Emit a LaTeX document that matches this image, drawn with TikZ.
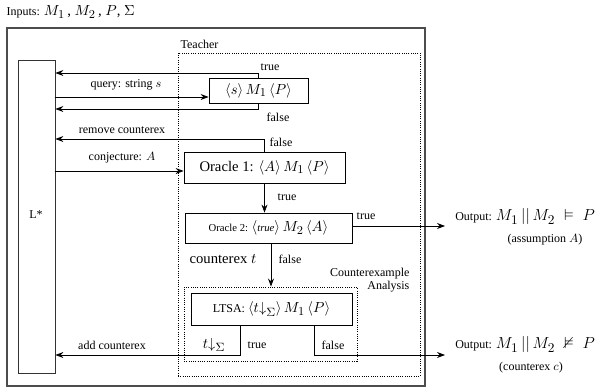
\documentclass[tikz,border=0pt]{standalone}
\usepackage{fontspec}
\setmainfont{Liberation Serif}
\usepackage{amssymb}
\usetikzlibrary{arrows.meta,fit}
% roomier subscripts
\DeclareMathSizes{9}{9}{7.5}{6}
\DeclareMathSizes{10}{10}{8.5}{6.5}
\DeclareMathSizes{11}{11}{9.5}{7}
\DeclareMathSizes{12}{12}{10}{7.5}

\begin{document}
\begin{tikzpicture}[x=0.75pt,y=-0.75pt,
  font=\fontsize{9}{10}\selectfont,
  frame/.style={draw=black!70,line width=1pt,inner sep=0pt},
  plainbox/.style={draw,line width=0.6pt,inner sep=0pt},
  dotbox/.style={draw,densely dotted,line width=0.7pt,inner sep=0pt},
  conn/.style={line width=0.6pt},
  arr/.style={conn,-{Stealth[length=6pt,width=4.5pt,inset=2pt]}},
  lbl/.style={inner sep=1pt},
  big/.style={font=\fontsize{11}{12}\selectfont}]
\useasboundingbox (0,0) rectangle (608,388);

% header
\node[lbl,anchor=west] (inputs) at (5,12) {Inputs: \fontsize{11}{12}\selectfont $M_1$\,, $M_2$\,, $P$, $\Sigma$};

% frames
\node[frame,fit={(7,28) (425,386)}] (outer) {};
\node[plainbox,draw=black!80,fit={(18,60) (55,373)}] (lstar) {};
\node (lstartxt) at (36,215) {L*};
\node[dotbox,fit={(178,53) (420,376)}] (teacher) {};
\node[lbl,anchor=west] (teachertxt) at (179,44) {Teacher};

% membership query box
\node[plainbox,fit={(209,78) (308,103)}] (qbox) {};
\node[big] at (qbox.center) {$\langle s\rangle\,M_1\,\langle P\rangle$};
\coordinate (qT) at (0,73);
\coordinate (qQ) at (0,97);
\coordinate (qF) at (0,109);
\draw[arr] (qbox.north) -- (qbox.north |- qT) -- (lstar.east |- qT);
\draw[arr] (lstar.east |- qQ) -- (qbox.west |- qQ);
\draw[arr] (qbox.south) -- (qbox.south |- qF) -- (lstar.east |- qF);
\node[lbl] (qtrue) at (270,67) {true};
\node[lbl] (qquery) at (126,85) {query: string $s$};
\node[lbl] (qfalse) at (278,117) {false};

% oracle 1
\node[plainbox,fit={(184,152) (345,183)}] (or1) {};
\node[big] at (or1.center) {Oracle 1: $\langle A\rangle\,M_1\,\langle P\rangle$};
\coordinate (rmv) at (0,139);
\coordinate (cnj) at (0,171);
\draw[arr] (or1.north) -- (or1.north |- rmv) -- (lstar.east |- rmv);
\draw[arr] (lstar.east |- cnj) -- (or1.west |- cnj);
\node[lbl] (rmvtxt) at (122,130) {remove counterex};
\node[lbl] (or1false) at (281,142) {false};
\node[lbl] (cnjtxt) at (122,158) {conjecture: $A$};

% oracle 2
\node[plainbox,fit={(185,213) (352,243)}] (or2) {};
\node at (or2.center) {\fontsize{8}{9}\selectfont Oracle 2: \fontsize{11}{12}\selectfont $\langle\mbox{\fontsize{8}{9}\selectfont\itshape true}\rangle\,M_2\,\langle A\rangle$};
\draw[arr] (or1.south) -- (or1.south |- or2.north);
\node[lbl] (or1true) at (287,197) {true};
\coordinate (o2t) at (0,226);
\node[inner sep=0pt,anchor=west] (out1) at (455,217) {Output: \fontsize{12}{13}\selectfont $M_1\,||\,M_2\;\vDash\;P$};
\node[inner sep=0pt] (out1note) at (545,240) {(assumption $A$)};
\draw[arr] (or2.east |- o2t) -- ([xshift=-7.5pt]out1.west |- o2t);
\node[lbl] (or2true) at (366,216) {true};
\node[lbl,big] (cext) at (223,259) {counterex $t$};

% counterexample analysis
\node[dotbox,fit={(184,287) (357,361)}] (cea) {};
\coordinate (o2f) at (271,0);
\draw[arr] (or2.south -| o2f) -- (cea.north -| o2f);
\node[lbl] (or2false) at (290,259) {false};
\node[lbl,anchor=east] (ceatxt1) at (411,274) {Counterexample};
\node[lbl,anchor=east] (ceatxt2) at (411,287) {Analysis};

\node[plainbox,fit={(191,293) (352,325)}] (ltsa) {};
\node at (ltsa.center) {LTSA: \fontsize{11}{12}\selectfont $\langle t{\downarrow}_{\Sigma}\rangle\,M_1\,\langle P\rangle$};
\coordinate (ltT) at (240,0);
\coordinate (ltF) at (314,0);
\coordinate (bot) at (0,355);
\draw[arr] (ltsa.south -| ltT) -- (ltT |- bot) -- (lstar.east |- bot);
\node[inner sep=0pt,anchor=west] (out2) at (455,345) {Output: \fontsize{12}{13}\selectfont $M_1\,||\,M_2\;\nvDash\;P$};
\node[inner sep=0pt] (out2note) at (531,368) {(counterex $c$)};
\draw[arr] (ltsa.south -| ltF) -- (ltF |- bot) -- ([xshift=-7.5pt]out2.west |- bot);
\node[lbl] (tsig) at (214,345) {\fontsize{11}{12}\selectfont $t{\downarrow}_{\Sigma}$};
\node[lbl] (lttrue) at (257,345) {true};
\node[lbl] (ltfalse) at (333,345) {false};
\node[lbl] (addtxt) at (112,345) {add counterex};
\end{tikzpicture}
\end{document}
